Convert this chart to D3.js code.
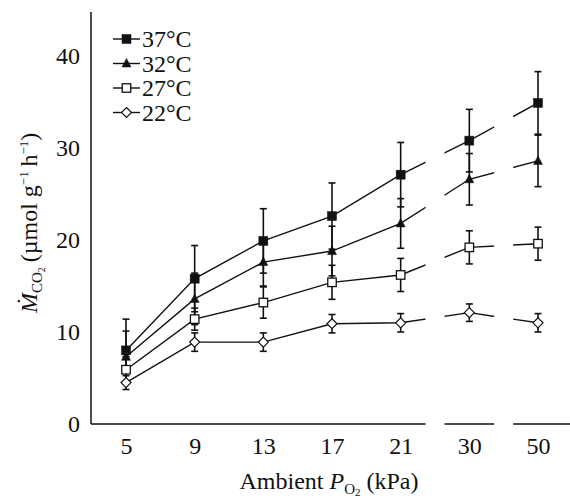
<!DOCTYPE html>
<html>
<head>
<meta charset="utf-8">
<script src="https://cdn.jsdelivr.net/npm/d3@7"></script>
<style>
  html, body { margin: 0; padding: 0; background: #fff; }
  svg { display: block; }
  text { font-family: "Liberation Serif", "Times New Roman", serif; fill: #111; }
</style>
</head>
<body>
<svg id="chart" width="570" height="501"></svg>
<script>
const categories = ["5", "9", "13", "17", "21", "30", "50"];
const seriesNames = ["37°C", "32°C", "27°C", "22°C"];
const values37 = [8.0, 15.8, 19.9, 22.6, 27.1, 30.8, 34.9];
const errors37 = [3.4, 3.6, 3.5, 3.6, 3.5, 3.4, 3.4];
const values32 = [7.3, 13.6, 17.6, 18.8, 21.8, 26.6, 28.6];
const errors32 = [2.8, 2.8, 2.6, 2.7, 2.7, 2.8, 2.8];
const values27 = [5.9, 11.4, 13.2, 15.4, 16.2, 19.2, 19.6];
const errors27 = [1.4, 1.2, 1.7, 1.85, 1.8, 1.8, 1.8];
const values22 = [4.5, 8.9, 8.9, 10.9, 11.0, 12.1, 11.0];
const errors22 = [0.75, 1.0, 1.0, 1.0, 1.0, 0.95, 1.0];
const yTicks = [0, 10, 20, 30, 40];
const breaksAfter = ["21", "30"];

const series = [
  { name: seriesNames[0], values: values37, errors: errors37, shape: "square", fill: "#111" },
  { name: seriesNames[1], values: values32, errors: errors32, shape: "triangle", fill: "#111" },
  { name: seriesNames[2], values: values27, errors: errors27, shape: "square", fill: "#fff" },
  { name: seriesNames[3], values: values22, errors: errors22, shape: "diamond", fill: "#fff" }
];

const FONT = '"Liberation Serif", "Times New Roman", serif';
const svg = d3.select("#chart");
const W = 570, H = 501;
const x0 = 91, yBase = 424;
const x = d3.scalePoint().domain(categories).range([126, 538]);
const y = d3.scaleLinear().domain([0, 40]).range([yBase, 56]);
const gapHalf = 9.5;

// gaps (axis breaks)
const gaps = breaksAfter.map(c => {
  const i = categories.indexOf(c);
  const mid = (x(categories[i]) + x(categories[i + 1])) / 2;
  return [mid - gapHalf, mid + gapHalf];
});
const segs = [];
let start = x0;
gaps.forEach(g => { segs.push([start, g[0]]); start = g[1]; });
segs.push([start, W + 5]);

const defs = svg.append("defs");
const clip = defs.append("clipPath").attr("id", "breaks");
segs.forEach(s => clip.append("rect").attr("x", s[0]).attr("y", 0).attr("width", s[1] - s[0]).attr("height", H));

// y axis line
svg.append("line").attr("x1", x0).attr("x2", x0).attr("y1", 12).attr("y2", yBase)
  .attr("stroke", "#111").attr("stroke-width", 1.5);
// x axis segments
segs.forEach(s => svg.append("line").attr("x1", s[0]).attr("x2", s[1]).attr("y1", yBase).attr("y2", yBase)
  .attr("stroke", "#111").attr("stroke-width", 1.5));

// y tick labels
const yAxis = svg.append("g").attr("transform", `translate(${x0},0)`)
  .call(d3.axisLeft(y).tickValues(yTicks).tickSize(0).tickPadding(11));
yAxis.select(".domain").remove();
yAxis.selectAll("text").style("font-size", "24px").style("font-family", FONT).attr("fill", "#111");

// x tick labels
const xAxis = svg.append("g").attr("transform", `translate(0,${yBase})`)
  .call(d3.axisBottom(x).tickSize(0).tickPadding(13));
xAxis.select(".domain").remove();
xAxis.selectAll("text").style("font-size", "24px").style("font-family", FONT).attr("fill", "#111");

// lines
const line = d3.line().x((d, i) => x(categories[i])).y(d => y(d));
const lineG = svg.append("g").attr("clip-path", "url(#breaks)");
series.forEach(s => {
  lineG.append("path").attr("d", line(s.values)).attr("fill", "none")
    .attr("stroke", "#111").attr("stroke-width", 1.4);
});

// error bars
const errG = svg.append("g").attr("stroke", "#111").attr("stroke-width", 1.6);
series.forEach(s => {
  s.values.forEach((v, i) => {
    const cx = x(categories[i]);
    const lo = y(v - s.errors[i]), hi = y(v + s.errors[i]);
    errG.append("line").attr("x1", cx).attr("x2", cx).attr("y1", lo).attr("y2", hi);
    errG.append("line").attr("x1", cx - 3.5).attr("x2", cx + 3.5).attr("y1", lo).attr("y2", lo);
    errG.append("line").attr("x1", cx - 3.5).attr("x2", cx + 3.5).attr("y1", hi).attr("y2", hi);
  });
});

function drawMarker(g, shape, fill, cx, cy) {
  if (shape === "square") {
    const s = fill === "#111" ? 9 : 8.5;
    g.append("rect").attr("x", cx - s / 2).attr("y", cy - s / 2).attr("width", s).attr("height", s)
      .attr("fill", fill).attr("stroke", "#111").attr("stroke-width", fill === "#111" ? 0.5 : 1.3);
  } else if (shape === "triangle") {
    g.append("path").attr("d", `M${cx},${cy - 5}L${cx + 4.5},${cy + 3.5}L${cx - 4.5},${cy + 3.5}Z`)
      .attr("fill", fill).attr("stroke", "#111").attr("stroke-width", 0.5);
  } else if (shape === "diamond") {
    g.append("path").attr("d", `M${cx},${cy - 5}L${cx + 5},${cy}L${cx},${cy + 5}L${cx - 5},${cy}Z`)
      .attr("fill", fill).attr("stroke", "#111").attr("stroke-width", 1.2);
  }
}

// markers (draw bottom series first so top ones overlay)
const markG = svg.append("g");
series.slice().reverse().forEach(s => {
  s.values.forEach((v, i) => drawMarker(markG, s.shape, s.fill, x(categories[i]), y(v)));
});

// legend
const legG = svg.append("g");
series.forEach((s, i) => {
  const ry = 39 + i * 24.5;
  legG.append("line").attr("x1", 113).attr("x2", 140).attr("y1", ry).attr("y2", ry)
    .attr("stroke", "#111").attr("stroke-width", 1.4);
  drawMarker(legG, s.shape, s.fill, 126.5, ry);
  legG.append("text").attr("x", 142).attr("y", ry + 8).style("font-size", "24px").text(s.name);
});

// x axis title
const xt = svg.append("text").attr("x", 329).attr("y", 489).attr("text-anchor", "middle").style("font-size", "24px");
xt.append("tspan").text("Ambient ");
xt.append("tspan").style("font-style", "italic").text("P");
xt.append("tspan").attr("dy", 5).style("font-size", "15px").text("O");
xt.append("tspan").attr("dy", 2).style("font-size", "11px").text("2");
xt.append("tspan").attr("dy", -7).text(" (kPa)");

// y axis title
const yt = svg.append("text").attr("transform", "translate(37,313) rotate(-90)")
  .attr("text-anchor", "start").style("font-size", "24px");
yt.append("tspan").style("font-style", "italic").text("Ṁ");
yt.append("tspan").attr("dy", 5).style("font-size", "15px").text("CO");
yt.append("tspan").attr("dy", 3).style("font-size", "10px").text("2");
yt.append("tspan").attr("dy", -8).text("\u2009(µmol g");
yt.append("tspan").attr("dy", -9).style("font-size", "13px").text("−1");
yt.append("tspan").attr("dy", 9).text("\u2009h");
yt.append("tspan").attr("dy", -9).style("font-size", "13px").text("−1");
yt.append("tspan").attr("dy", 9).text(")");
</script>
</body>
</html>
